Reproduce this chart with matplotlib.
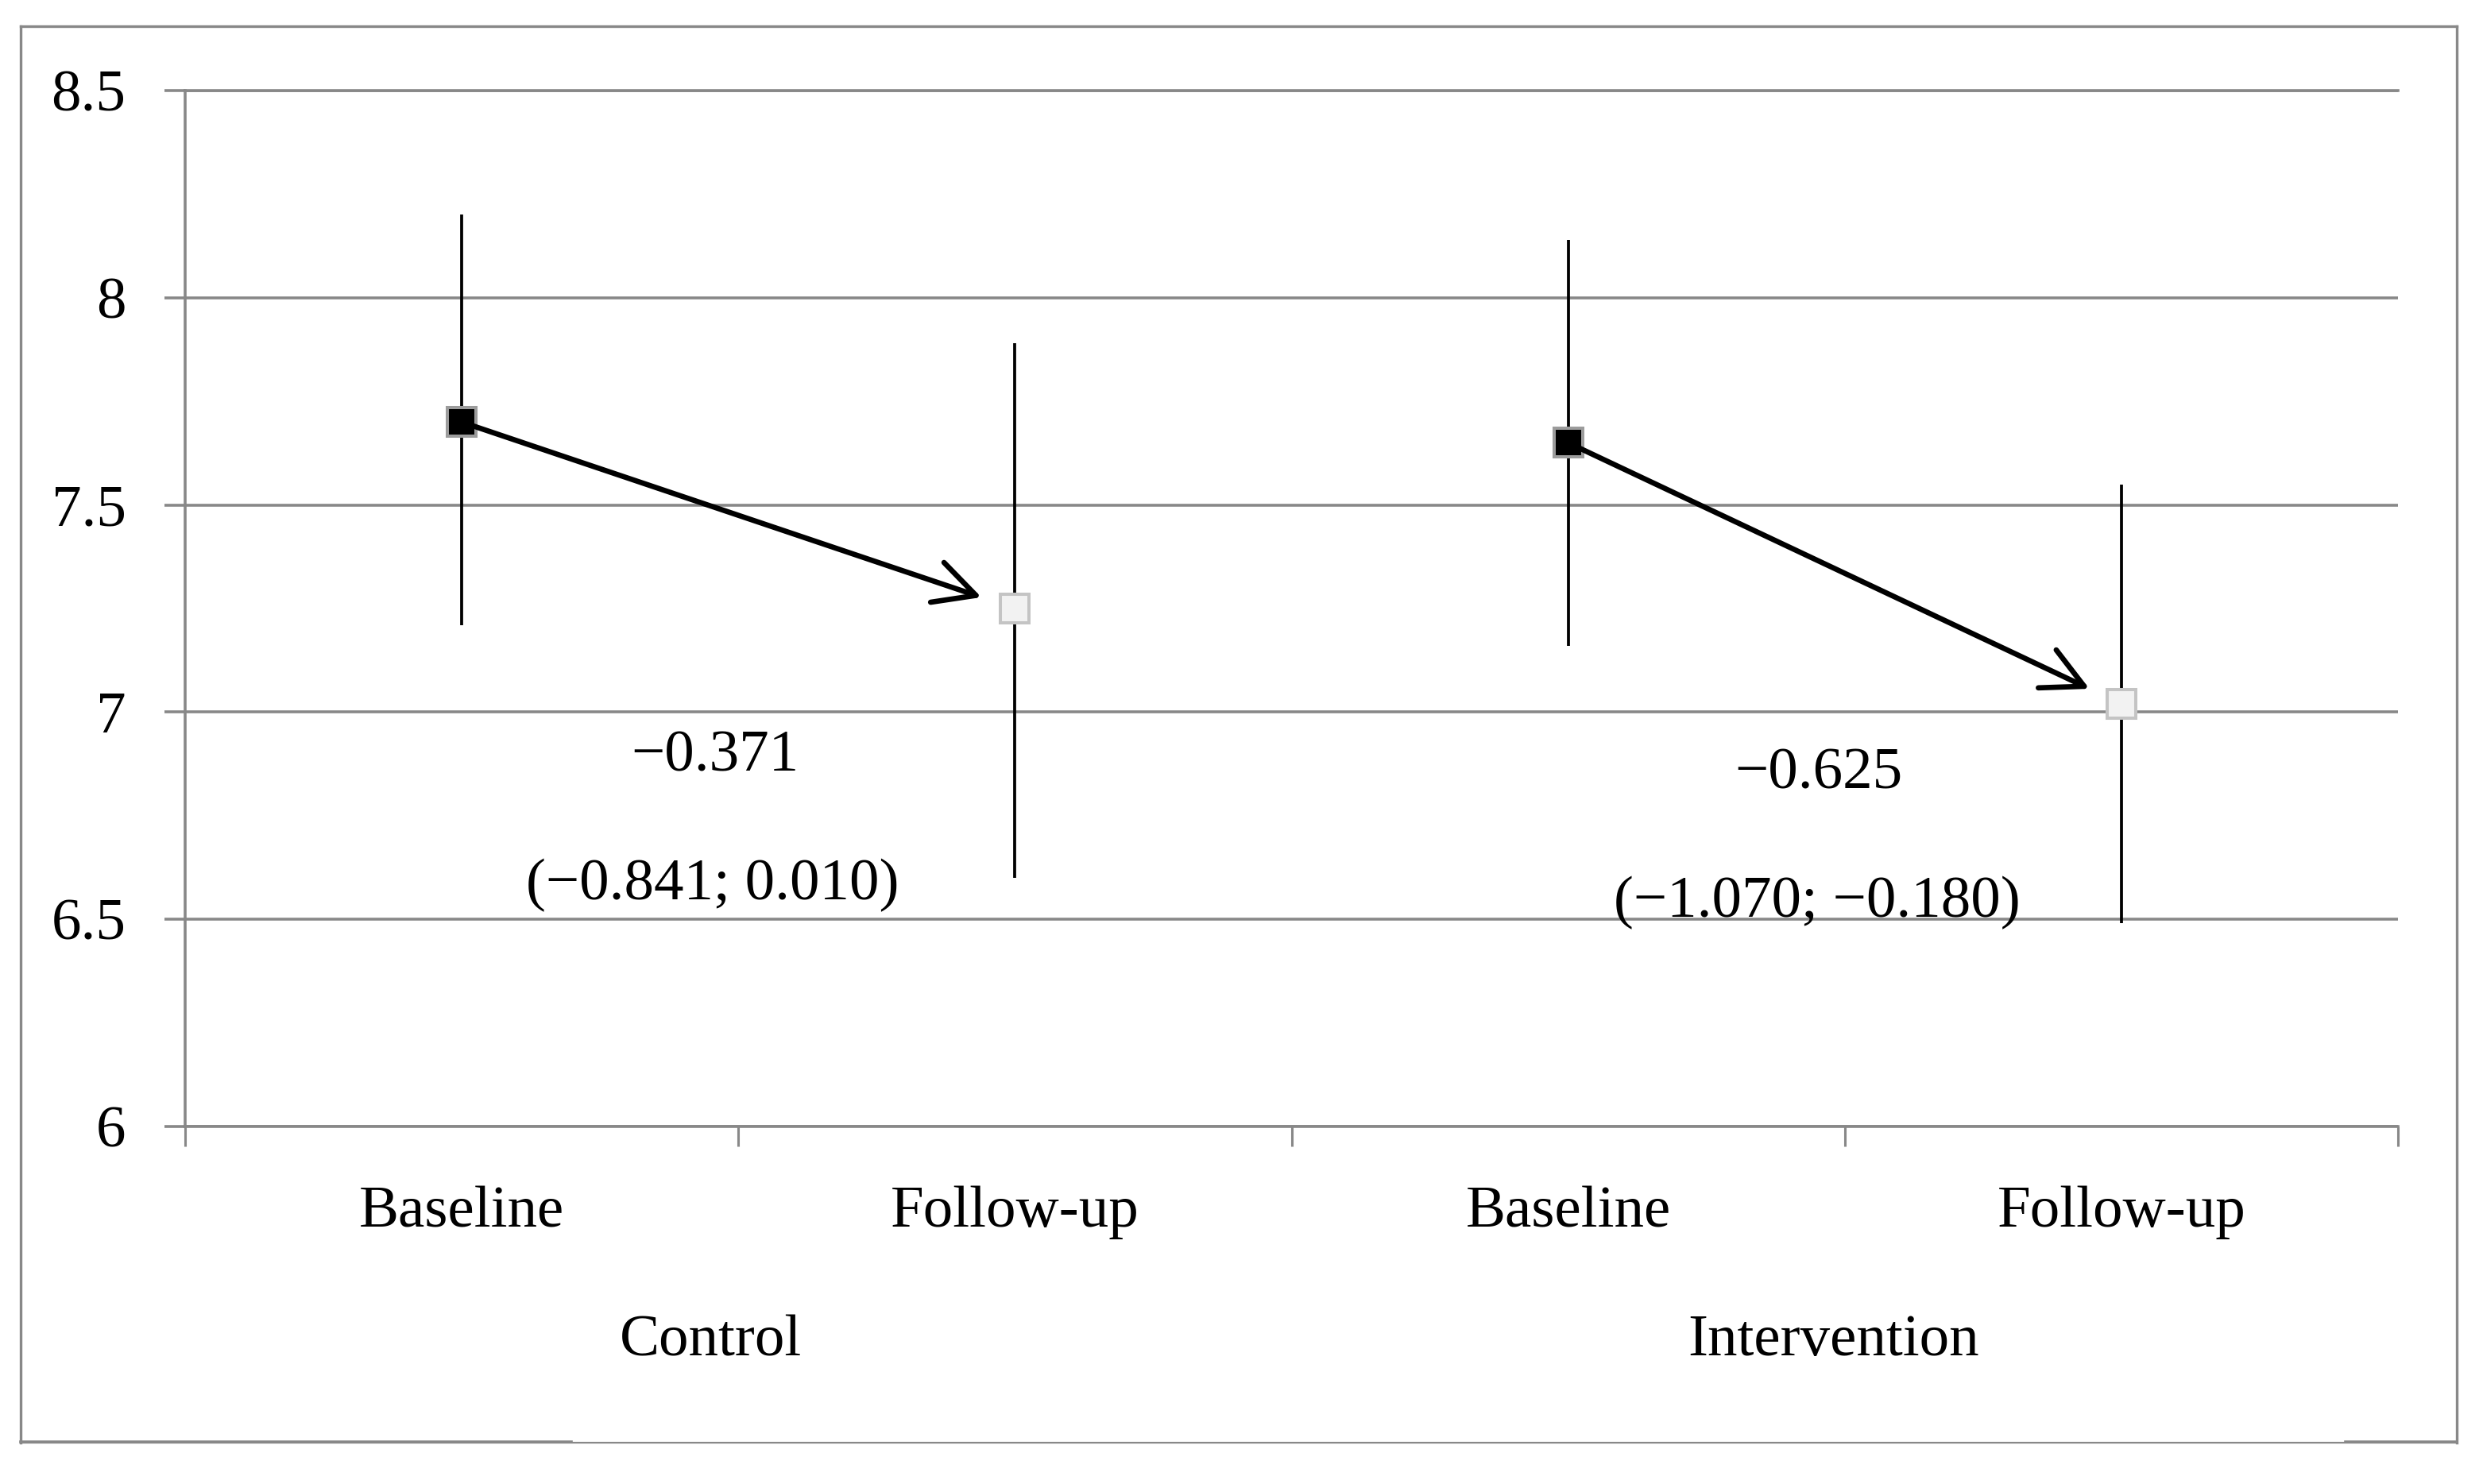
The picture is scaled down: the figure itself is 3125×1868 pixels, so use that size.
import numpy as np
import matplotlib
matplotlib.use('Agg')
import matplotlib.pyplot as plt
from matplotlib.lines import Line2D
import matplotlib.transforms as mtransforms

plt.rcParams['font.family'] = ['Liberation Serif', 'DejaVu Serif']

# Data
groups = ['Control', 'Intervention']
times = ['Baseline', 'Follow-up']
means = [7.70, 7.25, 7.65, 7.02]
ci_low = [7.21, 6.60, 7.16, 6.49]
ci_high = [8.20, 7.89, 8.14, 7.55]
diff_values = ['\u22120.371', '\u22120.625']
diff_cis = ['(\u22120.841; 0.010)', '(\u22121.070; \u22120.180)']
y_ticks = [6, 6.5, 7, 7.5, 8, 8.5]
y_tick_labels = ['6', '6.5', '7', '7.5', '8', '8.5']

grey = '#888888'
fs = 54

fig = plt.figure(figsize=(31.25, 18.68), dpi=100)
ax = fig.add_axes([0.07456, 0.2409, 0.8912, 0.69807])

x = np.arange(len(means))

# confidence intervals
ax.vlines(x, ci_low, ci_high, color='black', lw=2.7, zorder=3)

# baseline and follow-up markers
ax.plot(x[0::2], means[0::2], 's', ms=26, mfc='black', mec='#9c9c9c', mew=2.9, zorder=4)
ax.plot(x[1::2], means[1::2], 's', ms=26, mfc='#f2f2f2', mec='#c4c4c4', mew=2.9, zorder=4)

# arrows baseline -> follow-up with change estimates
for g in range(len(groups)):
    i0, i1 = 2 * g, 2 * g + 1
    ax.annotate('', xy=(x[i1], means[i1]), xytext=(x[i0], means[i0]),
                arrowprops=dict(arrowstyle='->,head_length=3.7,head_width=1.9',
                                lw=4.8, color='black', shrinkA=0, shrinkB=32,
                                mutation_scale=10, capstyle='round'),
                zorder=5)

ax.text(0.458, 6.858, diff_values[0], ha='center', va='baseline', fontsize=fs)
ax.text(0.454, 6.548, diff_cis[0], ha='center', va='baseline', fontsize=fs)
ax.text(2.453, 6.815, diff_values[1], ha='center', va='baseline', fontsize=fs)
ax.text(2.450, 6.506, diff_cis[1], ha='center', va='baseline', fontsize=fs)

# axes styling
ax.set_xlim(-0.5, 3.5)
ax.set_ylim(6, 8.5)
ax.set_yticks(y_ticks)
ax.set_yticklabels(y_tick_labels, fontsize=fs)
ax.yaxis.grid(True, color=grey, lw=2.6, zorder=1)
ax.tick_params(axis='y', length=18.7, width=2.6, color=grey, pad=35)

ax.set_xticks(x)
ax.set_xticklabels(times * len(groups), fontsize=fs)
ax.set_xticks(np.arange(-0.5, 4, 1.0), minor=True)
ax.tick_params(axis='x', which='major', length=0, pad=54)
ax.tick_params(axis='x', which='minor', length=18, width=2.2, color=grey)

for side in ['left', 'bottom', 'top']:
    ax.spines[side].set_color(grey)
    ax.spines[side].set_linewidth(2.6)
ax.spines['right'].set_visible(False)

trans = mtransforms.blended_transform_factory(ax.transData, ax.transAxes)
group_x = [0.45, 2.48]
for g, name in enumerate(groups):
    ax.text(group_x[g], -0.2209, name, transform=trans, ha='center', va='baseline', fontsize=fs)

# outer frame
x0, x1 = 0.00832, 0.98944
y0, y1 = 0.02784, 0.98233
fig.add_artist(Line2D([x0, x1], [y1, y1], color=grey, lw=2.4, transform=fig.transFigure))
fig.add_artist(Line2D([x0, x0], [y0, y1], color=grey, lw=2.4, transform=fig.transFigure))
fig.add_artist(Line2D([x1, x1], [y0, y1], color=grey, lw=2.4, transform=fig.transFigure))
fig.add_artist(Line2D([x0, x1], [y0, y0], color=grey, lw=1.6, transform=fig.transFigure))
fig.add_artist(Line2D([x0, 0.2301], [y0 + 0.0008, y0 + 0.0008], color=grey, lw=2.6, transform=fig.transFigure))
fig.add_artist(Line2D([0.9446, x1], [y0 + 0.0008, y0 + 0.0008], color=grey, lw=2.6, transform=fig.transFigure))

fig.savefig('out.png', dpi=100)
